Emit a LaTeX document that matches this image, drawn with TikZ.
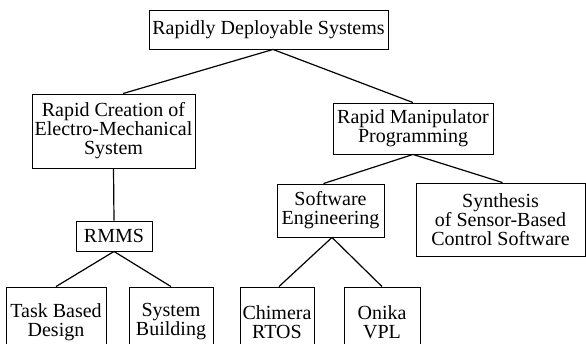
\documentclass[tikz,border=0pt]{standalone}
\usepackage{fontspec}
\setmainfont{Liberation Serif}
\usetikzlibrary{calc}
\begin{document}
\begin{tikzpicture}[x=1pt,y=-1pt,
  box/.style={draw,line width=0.9pt,rectangle,inner sep=0pt,align=center,
    font=\fontsize{20}{19}\selectfont},
  link/.style={line width=1.2pt}]
\useasboundingbox (0,0) rectangle (586,343);
\node[box,minimum width=239,minimum height=39] (top) at (268.5,29.5) {Rapidly Deployable Systems};
\node[box,minimum width=163,minimum height=74] (rc) at (113.5,131) {Rapid Creation of\\Electro-Mechanical\\System};
\node[box,minimum width=160,minimum height=51] (rmp) at (413,128.5) {Rapid Manipulator\\Programming};
\node[box,minimum width=76,minimum height=30] (rmms) at (114,236) {RMMS};
\node[box,minimum width=107,minimum height=53] (se) at (330.5,210.5) {Software\\Engineering};
\node[box,minimum width=169,minimum height=73] (syn) at (500.5,219.5) {Synthesis\\of Sensor-Based\\Control Software};
\node[box,minimum width=100,minimum height=70] (task) at (56,322) {Task Based\\Design};
\node[box,minimum width=84,minimum height=70] (sysb) at (171,322) {System\\Building};
\node[box,minimum width=74,minimum height=70] (chim) at (277,322) {Chimera\\RTOS};
\node[box,minimum width=76,minimum height=70] (onika) at (382,322) {Onika\\VPL};
\coordinate (topv) at ($(top.south)+(4.5,0)$);
\draw[link] (topv) -- ($(rc.north)+(9.5,0)$);
\draw[link] (topv) -- (rmp.north);
\draw[link] (rc.south) -- (rmms.north);
\draw[link] (rmms.south) -- (task.north);
\draw[link] (rmms.south) -- (sysb.north);
\draw[link] (rmp.south) -- ($(se.north)+(-7,0)$);
\draw[link] (rmp.south) -- ($(syn.north)+(2,0)$);
\draw[link] ($(se.south)+(1.5,0)$) -- ($(chim.north)+(2,0)$);
\draw[link] ($(se.south)+(1.5,0)$) -- (onika.north);
\end{tikzpicture}
\end{document}
